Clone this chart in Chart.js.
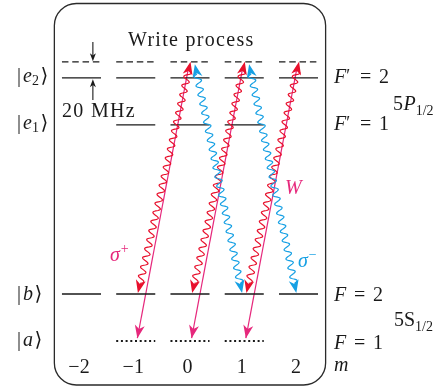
<!DOCTYPE html>
<html>
<head>
<meta charset="utf-8">
<title>Write process</title>
<script src="https://cdn.jsdelivr.net/npm/chart.js"></script>
<style>
  html, body { margin: 0; padding: 0; background: #fff; }
  #levelChart { display: block; }
</style>
</head>
<body>
<canvas id="levelChart" width="446" height="390"></canvas>
<script>
// Zeeman sublevels m and their tick labels
const mValues = [-2, -1, 0, 1, 2];
const mLabels = ['\u22122', '\u22121', '0', '1', '2'];

// level energies, arbitrary units (|a> = 0)
const energyA = 0;
const energyB = 1;
const energyE1 = 4.6;
const energyE2 = 5.6;
const energyVirtual = 5.94; // 20 MHz detuned above |e2>

// which m sublevels each level has
const mA = [-1, 0, 1];
const mB = [-2, -1, 0, 1, 2];
const mE1 = [-1, 0, 1];
const mE2 = [-2, -1, 0, 1, 2];

// transitions
const writeFromA = [-1, 0, 1];   // |a,m> -> virtual m+1 (straight)
const sigmaPlusTo = [0, 1, 2];   // |b,m-1> <-> |e2,m> (red wavy)
const sigmaMinusFrom = [0, 1];   // |e2,m> <-> |b,m+1> (blue wavy)

const RED = '#e8102c';
const PINK = '#e6287c';
const BLUE = '#16a0e4';
const INK = '#1a1a1a';
const SERIF = '"Liberation Serif", "DejaVu Serif", serif';
const HALF = 0.36; // half width of a sublevel bar, in m units

function levelData(ms, energy) {
    const pts = [];
    ms.forEach(m => {
        pts.push({ x: m - HALF, y: energy }, { x: m + HALF, y: energy }, { x: m, y: null });
    });
    return pts;
}

function levelSet(ms, energy, dash, width) {
    return {
        data: levelData(ms, energy),
        showLine: true,
        spanGaps: false,
        borderColor: INK,
        borderWidth: width || 1.3,
        borderDash: dash || [],
        borderCapStyle: 'butt',
        pointRadius: 0
    };
}

const datasets = [
    levelSet(mE2, energyE2),
    levelSet(mE1, energyE1),
    levelSet(mB, energyB),
    levelSet(mA, energyA, [2, 2.7], 2),
    levelSet(mE2, energyVirtual, [6.5, 3.8])
];

// straight pink write arrows
writeFromA.forEach(m => {
    datasets.push({
        data: [{ x: m + 1 - 0.02, y: energyVirtual - 0.08 }, { x: m + 0.03, y: energyA + 0.06 }],
        showLine: true,
        borderColor: PINK,
        borderWidth: 1.2,
        pointRadius: 0,
        arrowEnd: PINK
    });
});

// red wavy sigma+ lines
sigmaPlusTo.forEach(m => {
    datasets.push({
        data: [{ x: m - 1 + 0.04, y: energyB + 0.02 }, { x: m + 0.01, y: energyVirtual }],
        showLine: false,
        pointRadius: 0,
        wave: RED,
        arrowStart: RED,
        arrowEnd: RED
    });
});

// blue wavy sigma- lines
sigmaMinusFrom.forEach(m => {
    datasets.push({
        data: [{ x: m + 0.09, y: energyVirtual - 0.05 }, { x: m + 1 - 0.04, y: energyB + 0.02 }],
        showLine: false,
        pointRadius: 0,
        wave: BLUE,
        arrowStart: BLUE,
        arrowEnd: BLUE
    });
});

function arrowHead(ctx, tx, ty, ux, uy, len, wid, color) {
    const bx = tx - ux * len, by = ty - uy * len;
    const nx = -uy, ny = ux;
    ctx.beginPath();
    ctx.moveTo(tx, ty);
    ctx.lineTo(bx + nx * wid / 2, by + ny * wid / 2);
    ctx.lineTo(bx + ux * len * 0.28, by + uy * len * 0.28);
    ctx.lineTo(bx - nx * wid / 2, by - ny * wid / 2);
    ctx.closePath();
    ctx.fillStyle = color;
    ctx.fill();
}

function wavyLine(ctx, x0, y0, x1, y1, cut, color) {
    const L = Math.hypot(x1 - x0, y1 - y0);
    const ux = (x1 - x0) / L, uy = (y1 - y0) / L;
    const nx = -uy, ny = ux;
    const amp = 3.3, wl = 9.3;
    ctx.beginPath();
    for (let s = cut; s <= L - cut; s += 0.5) {
        const off = amp * Math.sin(2 * Math.PI * (s - cut) / wl);
        const px = x0 + ux * s + nx * off, py = y0 + uy * s + ny * off;
        if (s === cut) ctx.moveTo(px, py); else ctx.lineTo(px, py);
    }
    ctx.lineTo(x0 + ux * (L - cut + 2), y0 + uy * (L - cut + 2));
    ctx.strokeStyle = color;
    ctx.lineWidth = 1.2;
    ctx.stroke();
}

const transitionPlugin = {
    id: 'transitions',
    afterDatasetsDraw(chart) {
        const ctx = chart.ctx;
        ctx.save();
        chart.data.datasets.forEach((ds, i) => {
            if (!ds.wave && !ds.arrowEnd) return;
            const pts = chart.getDatasetMeta(i).data;
            const p0 = pts[0], p1 = pts[1];
            const L = Math.hypot(p1.x - p0.x, p1.y - p0.y);
            const ux = (p1.x - p0.x) / L, uy = (p1.y - p0.y) / L;
            if (ds.wave) wavyLine(ctx, p0.x, p0.y, p1.x, p1.y, 10, ds.wave);
            if (ds.arrowEnd) arrowHead(ctx, p1.x, p1.y, ux, uy, 13, 10, ds.arrowEnd);
            if (ds.arrowStart) arrowHead(ctx, p0.x, p0.y, -ux, -uy, 13, 10, ds.arrowStart);
        });
        ctx.restore();
    }
};

function font(size, style) {
    return (style ? style + ' ' : '') + size + 'px ' + SERIF;
}

// draw a list of text runs left to right
function runs(ctx, x, y, list, color) {
    list.forEach(r => {
        ctx.font = r.f;
        ctx.fillStyle = color || INK;
        const px = r.at !== undefined ? r.at : x;
        ctx.fillText(r.t, px, y + (r.dy || 0));
        x = px + ctx.measureText(r.t).width + (r.gap || 0);
    });
}

const framePlugin = {
    id: 'frame',
    beforeDatasetsDraw(chart) {
        const ctx = chart.ctx;
        const xs = chart.scales.x;
        const left = xs.getPixelForValue(-2.5), right = xs.getPixelForValue(2.5);
        const top = 3.5, bottom = 385;
        ctx.save();
        ctx.fillStyle = '#fff';
        ctx.fillRect(0, 0, chart.width, chart.height);
        ctx.beginPath();
        ctx.roundRect(left, top, right - left, bottom - top, 22);
        ctx.strokeStyle = '#2a2a2a';
        ctx.lineWidth = 1.3;
        ctx.stroke();
        ctx.restore();
    },
    afterDraw(chart) {
        const ctx = chart.ctx;
        const xs = chart.scales.x, ys = chart.scales.y;
        const yE2 = ys.getPixelForValue(energyE2), yE1 = ys.getPixelForValue(energyE1);
        const yB = ys.getPixelForValue(energyB), yA = ys.getPixelForValue(energyA);
        const yV = ys.getPixelForValue(energyVirtual);
        ctx.save();
        ctx.textBaseline = 'alphabetic';
        ctx.textAlign = 'left';

        // title and detuning
        ctx.letterSpacing = '1.3px';
        ctx.font = font(20);
        ctx.fillStyle = INK;
        ctx.fillText('Write process', 128, 46);
        ctx.fillText('20 MHz', 62, 117);
        ctx.letterSpacing = '0px';

        // 20 MHz arrows
        const ax = xs.getPixelForValue(-2 + 0.21);
        ctx.strokeStyle = INK;
        ctx.lineWidth = 1.1;
        ctx.beginPath();
        ctx.moveTo(ax, 42); ctx.lineTo(ax, yV - 5);
        ctx.moveTo(ax, 100); ctx.lineTo(ax, yE2 + 5);
        ctx.stroke();
        arrowHead(ctx, ax, yV - 0.5, 0, 1, 8, 6, INK);
        arrowHead(ctx, ax, yE2 + 1.5, 0, -1, 8, 6, INK);

        // state kets on the left
        const ket = (y, name, sub) => {
            const list = [{ t: '|', f: font(20), gap: 2 }, { t: name, f: font(20, 'italic'), gap: 0 }];
            if (sub) list.push({ t: sub, f: font(14), dy: 3, gap: 1.5 });
            else list[1].gap = 1.5;
            list.push({ t: '\u27E9', f: font(20) });
            runs(ctx, 17, y, list);
        };
        ket(yE2 + 4.5, 'e', '2');
        ket(yE1 + 4.5, 'e', '1');
        ket(yB + 6, 'b');
        ket(yA + 5.5, 'a');

        // hyperfine labels on the right
        const fLabel = (y, prime, val) => {
            const list = [{ t: 'F', f: font(20, 'italic'), at: 334 }];
            if (prime) list.push({ t: '\u2032', f: font(18), dy: -1 });
            list.push({ t: '=', f: font(20), at: prime ? 360 : 354 });
            list.push({ t: val, f: font(20), at: prime ? 379 : 373 });
            runs(ctx, 334, y, list);
        };
        fLabel(yE2 + 5, true, '2');
        fLabel(yE1 + 5.5, true, '1');
        fLabel(yB + 7, false, '2');
        fLabel(yA + 8, false, '1');

        runs(ctx, 393, 110, [
            { t: '5', f: font(20), gap: 0.5 },
            { t: 'P', f: font(20, 'italic'), gap: 0 },
            { t: '1/2', f: font(14), dy: 5 }
        ]);
        runs(ctx, 394, 326, [
            { t: '5', f: font(20), gap: 0 },
            { t: 'S', f: font(20), gap: 0 },
            { t: '1/2', f: font(14), dy: 5 }
        ]);

        // m axis
        ctx.textAlign = 'center';
        ctx.font = font(20);
        mValues.forEach((m, i) => {
            ctx.fillText(mLabels[i], xs.getPixelForValue(m) - 2.5, 373);
        });
        ctx.textAlign = 'left';
        runs(ctx, 334, 371, [{ t: 'm', f: font(20, 'italic') }]);

        // polarisation labels
        runs(ctx, 110, 261, [
            { t: '\u03C3', f: font(20, 'italic'), gap: 1 },
            { t: '+', f: font(14), dy: -8 }
        ], PINK);
        runs(ctx, 298, 267, [
            { t: '\u03C3', f: font(20, 'italic'), gap: 1 },
            { t: '\u2212', f: font(14), dy: -8 }
        ], BLUE);
        runs(ctx, 285, 194, [{ t: 'W', f: font(20, 'italic') }], PINK);

        ctx.restore();
    }
};

const ctx = document.getElementById('levelChart').getContext('2d');
new Chart(ctx, {
    type: 'scatter',
    data: { datasets: datasets },
    options: {
        responsive: false,
        animation: false,
        devicePixelRatio: 1,
        layout: { padding: 0 },
        plugins: { legend: { display: false }, tooltip: { enabled: false } },
        scales: {
            x: { type: 'linear', min: -3.502, max: 4.719, display: false },
            y: { type: 'linear', min: -1.0426, max: 7.2553, display: false }
        }
    },
    plugins: [framePlugin, transitionPlugin]
});
</script>
</body>
</html>
